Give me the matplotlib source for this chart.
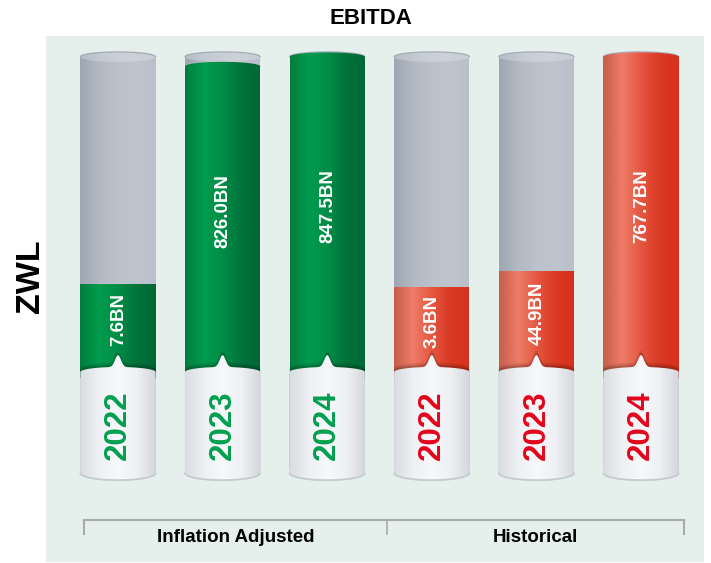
import numpy as np
import matplotlib
matplotlib.use("Agg")
import matplotlib.pyplot as plt
from matplotlib.patches import Polygon, Rectangle
from matplotlib.colors import LinearSegmentedColormap

# ---------------- data ----------------
title = "EBITDA"
currency = "ZWL"
groups = ["Inflation Adjusted", "Historical"]
years = ["2022", "2023", "2024", "2022", "2023", "2024"]
series_group = [0, 0, 0, 1, 1, 1]
value_labels = ["7.6BN", "826.0BN", "847.5BN", "3.6BN", "44.9BN", "767.7BN"]
fill_level = [28, 97, 100, 27, 32, 100]   # visual fill of each cylinder, % of height

# ---------------- styles ----------------
plt.rcParams['font.family'] = ['Liberation Sans', 'DejaVu Sans']
W, H = 711, 563
fig = plt.figure(figsize=(W / 100, H / 100), dpi=100)
fig.patch.set_facecolor("white")
ax = fig.add_axes([0, 0, 1, 1])
ax.set_axis_off()

# axis scale: x in category units, y in % of cylinder height
X0_PX, DX_PX = 118.0, 104.6
Y0_PX, DY_PX = 372.0, 3.12
xlim = (-X0_PX / DX_PX, (W - X0_PX) / DX_PX)
ylim = ((Y0_PX - H) / DY_PX, Y0_PX / DY_PX)

BODY_H = 101.0      # cylinder top (ellipse centre)
HW = 0.36           # half width in x units
EY = 1.6            # ellipse half height in y units
BASE_BOT = -32.4    # bottom ellipse centre of white base
PEAK = 5.4          # pointer tip

grad_styles = {
    "gray": ['#9ea6b1', '#b2b9c3', '#bbc2cb', '#bec5ce', '#b9c0ca'],
    "graycap": ['#b7bec8', '#c6ccd4', '#cdd2d9', '#c9ced6'],
    "white": ['#d9dce1', '#eef0f3', '#f7f8fa', '#eef0f3', '#d3d6dc'],
    "green": ['#007d3e', '#009c4d', '#008d46', '#00723a', '#006835'],
    "red": ['#c65e4c', '#ee7c68', '#e55641', '#da3923', '#d7311d'],
}
year_colors = ['#00a04f', '#e3051b']
panel_color = '#e5efeb'


def grad_fill(verts, x0, x1, y0, y1, stops, z):
    poly = Polygon(verts, closed=True, facecolor='none', edgecolor='none',
                   transform=ax.transData)
    ax.add_patch(poly)
    cmap = LinearSegmentedColormap.from_list("g", stops)
    g = np.linspace(0, 1, 256).reshape(1, -1)
    im = ax.imshow(g, cmap=cmap, extent=[x0, x1, y0, y1], aspect='auto',
                   interpolation='bicubic', zorder=z)
    im.set_clip_path(poly)
    return poly


def ellipse_pts(cx, cy, a, b, t0, t1, n=60):
    t = np.linspace(t0, t1, n)
    return np.column_stack([cx + a * np.cos(t), cy + b * np.sin(t)])


def rect_pts(cx, y0, y1):
    return np.array([[cx - HW, y0], [cx - HW, y1], [cx + HW, y1], [cx + HW, y0]])


# background panel
ax.add_patch(Rectangle(((46 - X0_PX) / DX_PX, (Y0_PX - 562) / DY_PX),
                       (704 - 46) / DX_PX, (562 - 36) / DY_PX,
                       facecolor=panel_color, edgecolor='none', zorder=0))

xs = np.arange(len(years), dtype=float)
for i, cx in enumerate(xs):
    style = "green" if series_group[i] == 0 else "red"
    fy = fill_level[i] / 100.0 * BODY_H

    # soft shadow under base
    ax.add_patch(Polygon(ellipse_pts(cx, BASE_BOT - 0.6, HW * 0.95, EY * 1.2, 0, 2 * np.pi),
                         closed=True, facecolor='#cfd7d4', edgecolor='none', zorder=1))

    # gray empty body + cap
    grad_fill(rect_pts(cx, -2, BODY_H), cx - HW, cx + HW, -2, BODY_H + EY,
              grad_styles["gray"], 2)
    cap = ellipse_pts(cx, BODY_H, HW, EY, 0, 2 * np.pi)
    grad_fill(cap, cx - HW, cx + HW, BODY_H - EY, BODY_H + EY, grad_styles["graycap"], 3)
    ax.plot(*ellipse_pts(cx, BODY_H, HW, EY, 0.05, np.pi - 0.05).T, color='#a3abb6',
            lw=0.9, zorder=3.1)

    # coloured fill
    grad_fill(rect_pts(cx, -2, fy), cx - HW, cx + HW, -2, fy + EY, grad_styles[style], 4)
    if fill_level[i] >= 90:
        capc = ellipse_pts(cx, fy, HW, EY * 0.9, 0, 2 * np.pi)
        grad_fill(capc, cx - HW, cx + HW, fy - EY, fy + EY, grad_styles[style], 4.5)

    # white base with pointer
    dx = np.linspace(-HW, HW, 161)
    top = EY * np.sqrt(np.clip(1 - (dx / HW) ** 2, 0, 1))
    top = top + (PEAK - EY) * np.exp(-(dx / 0.04) ** 2)
    top_pts = np.column_stack([cx + dx, top])
    bot_pts = ellipse_pts(cx, BASE_BOT, HW, EY * 1.4, 0, -np.pi)
    base = np.vstack([top_pts, bot_pts])
    for sh, al in [(1.4, 0.10), (0.7, 0.16)]:
        shadow = base.copy()
        shadow[:, 1] += sh
        ax.add_patch(Polygon(shadow, closed=True, facecolor='black', alpha=al,
                             edgecolor='none', zorder=5))
    grad_fill(base, cx - HW, cx + HW, BASE_BOT - 2 * EY, PEAK, grad_styles["white"], 6)
    ax.plot(*ellipse_pts(cx, BASE_BOT, HW, EY * 1.4, -0.05, -np.pi + 0.05).T,
            color='#c5c9d0', lw=1.2, zorder=6.1)

    # labels
    ax.text(cx, -17, years[i], rotation=90, ha='center', va='center',
            fontsize=22.5, fontweight='bold', color=year_colors[series_group[i]], zorder=8)
    ax.text(cx + 0.005, (PEAK + fy) / 2, value_labels[i], rotation=90, ha='center',
            va='center', fontsize=13.5, fontweight='bold', color='white', zorder=8)

# bracket
yb = (Y0_PX - 520) / DY_PX
ytk = (Y0_PX - 534) / DY_PX
left = xs[0] - HW + 0.035
right = xs[-1] + HW + 0.05
mid = (xs[2] + xs[3]) / 2 + 0.07
ax.plot([left, left, right, right], [ytk, yb, yb, ytk], color='#a9abab', lw=1.5,
        zorder=2, solid_joinstyle='miter')
ax.plot([mid, mid], [yb, ytk], color='#a9abab', lw=1.2, zorder=2)
ylab = (Y0_PX - 537) / DY_PX
ax.text((left + mid) / 2, ylab, groups[0], ha='center', va='center',
        fontsize=13.5, fontweight='bold', color='black')
ax.text((mid + right) / 2, ylab, groups[1], ha='center', va='center',
        fontsize=13.5, fontweight='bold', color='black')

# title and unit
fig.text(371 / W, 1 - 18 / H, title, ha='center', va='center', fontsize=16,
         fontweight='bold', color='black')
fig.text(31 / W, 1 - 276 / H, currency, rotation=90, ha='center', va='center',
         fontsize=24.5, fontweight='bold', color='black')

ax.set_xlim(*xlim)
ax.set_ylim(*ylim)
fig.savefig("out.png", dpi=100)
